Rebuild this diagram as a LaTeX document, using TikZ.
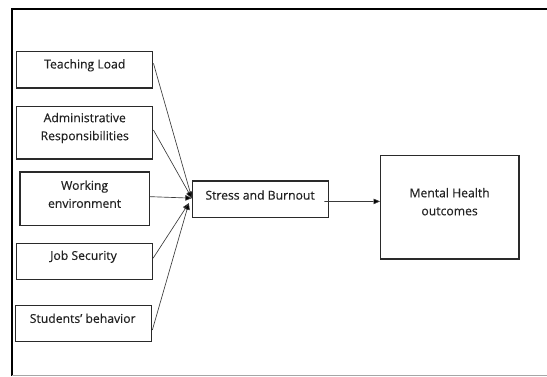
\documentclass[tikz,border=0pt]{standalone}
\usepackage{fontspec}
\setmainfont{Open Sans}
\newfontfamily\lblfont{Open Sans}[FakeBold=0.35]
\usetikzlibrary{arrows.meta}
\definecolor{boxc}{HTML}{2A2A2A}
\definecolor{linec}{HTML}{3A3A3A}
\definecolor{txtc}{HTML}{222222}
\begin{document}
\begin{tikzpicture}[x=1pt,y=-1pt,
  box/.style={draw=boxc, line width=1.3pt, inner sep=0pt, rectangle},
  lbl/.style={text=txtc, align=center, inner sep=0pt, font=\lblfont\fontsize{12.2}{18}\selectfont},
  conn/.style={draw=linec, line width=0.65pt, -{Triangle[length=6.5pt,width=5.5pt,fill=black]}}]
\useasboundingbox (0,0) rectangle (547,376);
% frame
\draw[line width=1.6pt, black] (547,9) -- (12,9) -- (12,376);
\draw[line width=1pt, black!35] (12,375.3) -- (547,375.3);
% boxes
\node[box, minimum width=136.1pt, minimum height=36.3pt] (TL) at (84.75,69.85) {};
\node[box, minimum width=136.1pt, minimum height=52.7pt] (AR) at (84.75,132.65) {};
\node[box, minimum width=129.4pt, minimum height=53.3pt] (WE) at (84.6,198.65) {};
\node[box, minimum width=136pt, minimum height=36pt] (JS) at (84.4,261.3) {};
\node[box, minimum width=136pt, minimum height=36pt] (SB) at (83.7,323.3) {};
\node[box, minimum width=136.1pt, minimum height=36.3pt] (ST) at (260.55,199.15) {};
\node[box, minimum width=138.3pt, minimum height=103.3pt] (MH) at (449.85,207.4) {};
% texts
\node[lbl] (TLt) at (84.75,65.3) {Teaching Load};
\node[lbl] (ARt) at (84.75,128) {Administrative\\Responsibilities};
\node[lbl] (WEt) at (84.6,194.2) {Working\\environment};
\node[lbl] (JSt) at (83.5,256.7) {Job Security};
\node[lbl] (SBt) at (82.7,318.3) {Students’ behavior};
\node[lbl] (STt) at (260.1,195) {Stress and Burnout};
\node[lbl] (MHt) at (449.6,201.7) {Mental Health\\outcomes};
% connectors
\draw[conn] ([yshift=6.5pt]TL.east) -- ([yshift=1pt]ST.west);
\draw[conn] ([yshift=2.6pt]AR.east) -- ([yshift=1pt]ST.west);
\draw[conn] ([yshift=2pt]WE.east) -- ([yshift=1pt]ST.west);
\draw[conn] ([yshift=3pt]JS.east) -- ([xshift=-3pt,yshift=-4pt]ST.west);
\draw[conn] ([yshift=-6.7pt]SB.east) -- ([xshift=-3pt,yshift=-4pt]ST.west);
\draw[conn] ([xshift=-5pt,yshift=-2.4pt]ST.east) -- ([yshift=6pt]MH.west);
\end{tikzpicture}
\end{document}
